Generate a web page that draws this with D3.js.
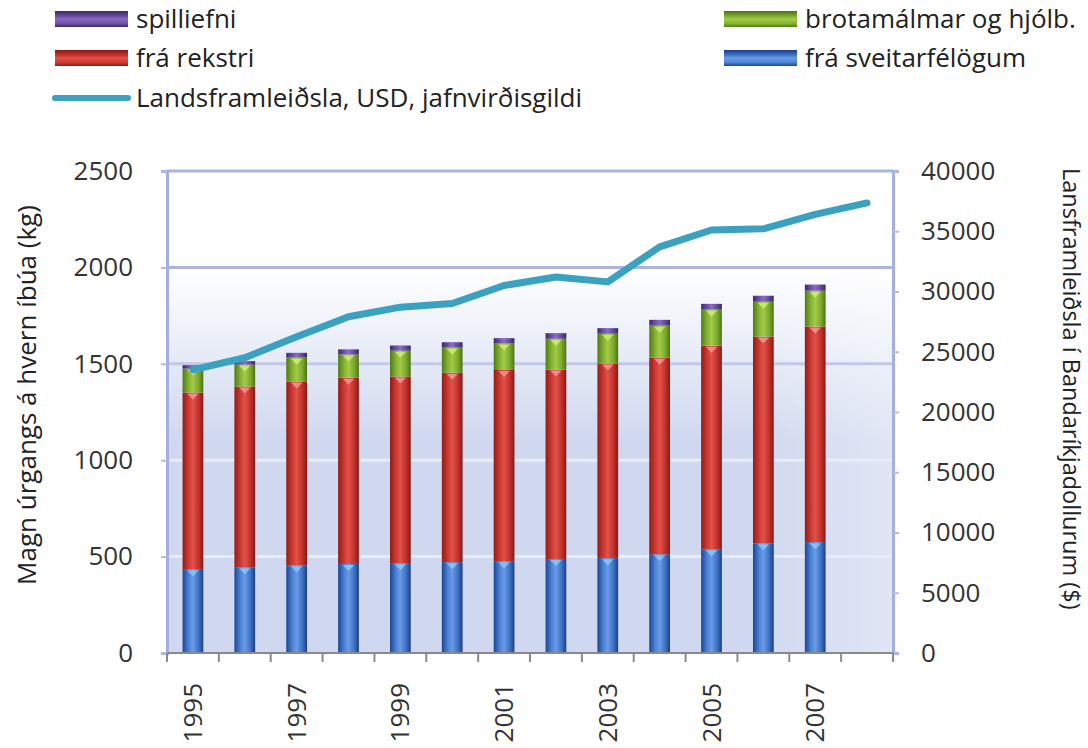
<!DOCTYPE html>
<html>
<head>
<meta charset="utf-8">
<script src="https://cdn.jsdelivr.net/npm/d3@7"></script>
<style>
  body { margin: 0; background: #fff; }
  svg { display: block; font-family: "Open Sans", sans-serif; }
  .tick text { fill: #333; font-size: 26px; }
</style>
</head>
<body>
<div id="chart"></div>
<script>
const years = ["1995","1996","1997","1998","1999","2000","2001","2002","2003","2004","2005","2006","2007","2008"];
const sveitar = [435, 445, 455, 462, 466, 471, 476, 487, 492, 512, 538, 569, 575];
const rekstri = [916, 937, 953, 966, 968, 983, 992, 983, 1009, 1020, 1056, 1072, 1118];
const brota   = [124, 114, 124, 120, 134, 130, 137, 160, 155, 166, 187, 181, 186];
const spilli  = [18, 18, 25, 27, 27, 28, 28, 29, 29, 30, 30, 31, 32];
const gdp = [23500, 24500, 26250, 27900, 28700, 29000, 30500, 31200, 30800, 33700, 35100, 35200, 36400, 37350];
const leftTicks = [0, 500, 1000, 1500, 2000, 2500];
const rightTicks = [0, 5000, 10000, 15000, 20000, 25000, 30000, 35000, 40000];
const labelYears = ["1995","1997","1999","2001","2003","2005","2007"];

const W = 1088, H = 748;
const m = {left: 167, right: 195, top: 171, bottom: 95};
const iw = W - m.left - m.right, ih = H - m.top - m.bottom;

// layers bottom to top
const layers = [
  {key: "sveitar", name: "frá sveitarfélögum", vals: sveitar, c: ["#1d4591", "#4c84d8", "#6b9be6", "#3e70c4", "#1a3f86"], hi: "#8fd0f8"},
  {key: "rekstri", name: "frá rekstri", vals: rekstri, c: ["#8e1d19", "#cf3a32", "#e0524a", "#c2302a", "#861a16"], hi: "#f4a0a0"},
  {key: "brota", name: "brotamálmar og hjólb.", vals: brota, c: ["#4f7a17", "#86b432", "#a2cc48", "#7ba82c", "#4a7314"], hi: "#d8f080"},
  {key: "spilli", name: "spilliefni", vals: spilli, c: ["#3e2a6a", "#6f52a8", "#8a6cc4", "#634898", "#3a2764"], hi: "#c0a8f0"}
];

const svg = d3.select("#chart").append("svg").attr("width", W).attr("height", H);
const defs = svg.append("defs");

for (const l of layers) {
  const g = defs.append("linearGradient").attr("id", "g-" + l.key)
    .attr("x1", 0).attr("x2", 1).attr("y1", 0).attr("y2", 0);
  [0, 0.3, 0.5, 0.78, 1].forEach((o, i) => g.append("stop").attr("offset", o).attr("stop-color", l.c[i]));
}
const bg = defs.append("linearGradient").attr("id", "bg").attr("x1", 0).attr("x2", 0).attr("y1", 0).attr("y2", 1);
bg.append("stop").attr("offset", 0).attr("stop-color", "#ffffff");
bg.append("stop").attr("offset", 0.45).attr("stop-color", "#d0d8ef");
bg.append("stop").attr("offset", 1).attr("stop-color", "#d0d8ef");
const bgh = defs.append("linearGradient").attr("id", "bgh").attr("x1", 0).attr("x2", 1).attr("y1", 0).attr("y2", 0);
bgh.append("stop").attr("offset", 0).attr("stop-color", "#ffffff").attr("stop-opacity", 0);
bgh.append("stop").attr("offset", 0.8).attr("stop-color", "#ffffff").attr("stop-opacity", 0);
bgh.append("stop").attr("offset", 1).attr("stop-color", "#ffffff").attr("stop-opacity", 0.35);

const x = d3.scaleBand().domain(years).range([0, iw]).paddingInner(0.6).paddingOuter(0.3);
const xc = d3.scaleBand().domain(years).range([0, iw]);
const y = d3.scaleLinear().domain([0, 2500]).range([ih, 0]);
const y2 = d3.scaleLinear().domain([0, 40000]).range([ih, 0]);

const plot = svg.append("g").attr("transform", `translate(${m.left},${m.top})`);

plot.append("rect").attr("width", iw).attr("height", ih).attr("fill", "#fff");
plot.append("rect").attr("y", y(2000)).attr("width", iw).attr("height", ih - y(2000)).attr("fill", "url(#bg)");
plot.append("rect").attr("y", y(2000)).attr("width", iw).attr("height", ih - y(2000)).attr("fill", "url(#bgh)");

const gridColor = d3.scaleLinear().domain([0, 1000, 1500, 2000, 2500]).range(["#e8ecf8", "#e8ecf8", "#c2c9e8", "#aab4e2", "#aab4e2"]);
plot.append("g").selectAll("line").data(leftTicks.slice(1)).join("line")
  .attr("x1", 0).attr("x2", iw)
  .attr("y1", d => y(d)).attr("y2", d => y(d))
  .attr("stroke", d => gridColor(d)).attr("stroke-width", 3);

// stacked bars
const rows = sveitar.map((_, i) => {
  const r = {year: years[i]};
  for (const l of layers) r[l.key] = l.vals[i];
  return r;
});
const stack = d3.stack().keys(layers.map(l => l.key))(rows);
stack.forEach((s, li) => {
  const l = layers[li];
  const g = plot.append("g");
  g.selectAll("rect").data(s).join("rect")
    .attr("x", d => x(d.data.year))
    .attr("y", d => y(d[1]))
    .attr("width", x.bandwidth())
    .attr("height", d => y(d[0]) - y(d[1]))
    .attr("fill", `url(#g-${l.key})`);
  if (l.key !== "spilli") {
    g.selectAll("path").data(s).join("path")
      .attr("d", d => {
        const x0 = x(d.data.year), bw = x.bandwidth(), t = y(d[1]);
        return `M${x0 + bw * 0.22},${t + 1} L${x0 + bw * 0.78},${t + 1} L${x0 + bw / 2},${t + 7} Z`;
      })
      .attr("fill", l.hi).attr("opacity", 0.75);
  }
});

// line
plot.append("path").datum(gdp)
  .attr("fill", "none").attr("stroke", "#3aa2c0").attr("stroke-width", 7)
  .attr("stroke-linejoin", "round").attr("stroke-linecap", "round")
  .attr("d", d3.line().x((d, i) => xc(years[i]) + xc.bandwidth() / 2).y(d => y2(d)));

// axes
const axL = plot.append("g")
  .call(d3.axisLeft(y).tickValues(leftTicks).tickFormat(d3.format("d")).tickSize(6).tickPadding(28))
  .attr("font-family", null).attr("font-size", null);
axL.select(".domain").attr("stroke", "#a4aee0").attr("stroke-width", 3);
axL.selectAll(".tick line").attr("stroke", "#b4bcdc").attr("stroke-width", 2);

const axR = plot.append("g").attr("transform", `translate(${iw},0)`)
  .call(d3.axisRight(y2).tickValues(rightTicks).tickFormat(d3.format("d")).tickSize(6).tickPadding(22))
  .attr("font-family", null).attr("font-size", null);
axR.select(".domain").attr("stroke", "#a4aee0").attr("stroke-width", 3);
axR.selectAll(".tick line").attr("stroke", "#b4bcdc").attr("stroke-width", 2);

const edges = years.map(d => xc(d)).concat([iw]);
plot.append("line").attr("x1", 0).attr("x2", iw).attr("y1", ih).attr("y2", ih)
  .attr("stroke", "#8a8a8a").attr("stroke-width", 2);
plot.append("g").selectAll("line").data(edges).join("line")
  .attr("x1", d => d).attr("x2", d => d).attr("y1", ih).attr("y2", ih + 9)
  .attr("stroke", "#8a8a8a").attr("stroke-width", 2);
plot.append("g").selectAll("text").data(labelYears).join("text")
  .attr("transform", d => `translate(${xc(d) + xc.bandwidth() / 2 + 9},${ih + 30}) rotate(-90)`)
  .attr("text-anchor", "end")
  .attr("fill", "#333").attr("font-size", 26)
  .text(d => d);

// axis titles
svg.append("text").attr("transform", `translate(36,395) rotate(-90)`)
  .attr("text-anchor", "middle").attr("font-size", 26).attr("fill", "#222")
  .text("Magn úrgangs á hvern íbúa (kg)");
svg.append("text").attr("transform", `translate(1063,168) rotate(90)`)
  .attr("text-anchor", "start").attr("font-size", 23.5).attr("fill", "#222")
  .text("Lansframleiðsla í Bandaríkjadollurum ($)");

// legend
const legendItems = [
  {layer: layers[3], x: 55, y: 19},
  {layer: layers[1], x: 55, y: 58},
  {layer: layers[2], x: 724, y: 19},
  {layer: layers[0], x: 724, y: 58}
];
const lg = svg.append("g");
for (const it of legendItems) {
  const gg = defs.append("linearGradient").attr("id", "lg-" + it.layer.key)
    .attr("x1", 0).attr("x2", 0).attr("y1", 0).attr("y2", 1);
  [0, 0.3, 0.5, 0.78, 1].forEach((o, i) => gg.append("stop").attr("offset", o).attr("stop-color", it.layer.c[4 - i]));
  lg.append("rect").attr("x", it.x).attr("y", it.y - 8).attr("width", 73).attr("height", 16)
    .attr("fill", `url(#lg-${it.layer.key})`);
  lg.append("text").attr("x", it.x + 81).attr("y", it.y + 9).attr("font-size", 26).attr("fill", "#222")
    .text(it.layer.name);
}
lg.append("line").attr("x1", 55).attr("x2", 128).attr("y1", 98).attr("y2", 98)
  .attr("stroke", "#3aa2c0").attr("stroke-width", 6).attr("stroke-linecap", "round");
lg.append("text").attr("x", 136).attr("y", 107).attr("font-size", 26).attr("fill", "#222")
  .text("Landsframleiðsla, USD, jafnvirðisgildi");
</script>
</body>
</html>
